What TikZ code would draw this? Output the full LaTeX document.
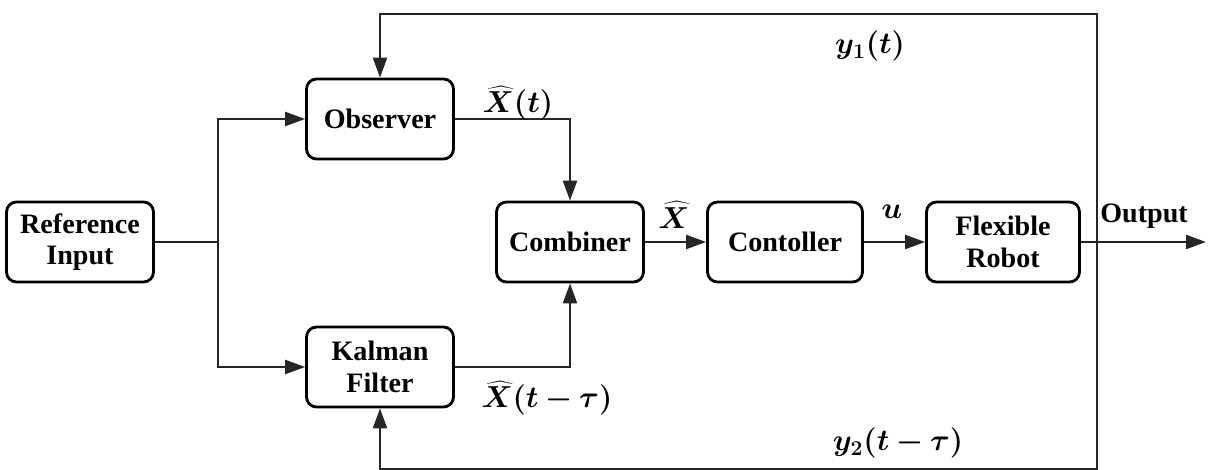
\documentclass[tikz,border=0pt]{standalone}
\usepackage{fontspec}
\setmainfont{Liberation Serif}
\usepackage{bm}
\usetikzlibrary{positioning,arrows.meta}

\begin{document}
\begin{tikzpicture}[x=0.02cm,y=-0.02cm,
  block/.style={draw, line width=1.6pt, rounded corners=0.2cm, minimum width=2.94cm, minimum height=1.6cm, align=center, font=\fontsize{16}{18}\selectfont\bfseries},
  wire/.style={line width=1.3pt, draw=black!85},
  arr/.style={wire, -{Triangle[length=0.4cm,width=0.28cm]}},
  lbl/.style={font=\fontsize{17}{20}\selectfont}]
\useasboundingbox (0,0) rectangle (1208,470);

\node[block](ref) at (80,242) {Reference\\Input};
\node[block](obs) at (380,119) {Observer};
\node[block](kal) at (380,367) {Kalman\\Filter};
\node[block](comb) at (570,242) {Combiner};
\node[block, minimum width=3.1cm](ctrl) at (785,242) {Contoller};
\node[block, minimum width=3.06cm](rob) at (1003,242) {Flexible\\Robot};

\coordinate (split) at (218,242);
\coordinate (out) at (1206,242);
\coordinate (tap) at (1097,242);
\coordinate (topr) at (1097,14);
\coordinate (botr) at (1097,469);

\draw[wire] (ref) -- (split);
\draw[arr] (split) |- (obs);
\draw[arr] (split) |- (kal);
\draw[arr] (obs.east) -| (comb.north);
\draw[arr] (kal.east) -| (comb.south);
\draw[arr] (comb) -- (ctrl);
\draw[arr] (ctrl) -- (rob);
\draw[arr] (rob) -- (out);
\draw[arr] (tap) -- (topr) -| (obs.north);
\draw[arr] (tap) -- (botr) -| (kal.south);

\node[lbl](xt) at (518,103) {$\bm{\widehat{X}(t)}$};
\node[lbl](xtt) at (547,398) {$\bm{\widehat{X}(t-\tau)}$};
\node[lbl](xh) at (674,215) {$\bm{\widehat{X}}$};
\node[lbl](uu) at (892,212) {$\bm{u}$};
\node[font=\fontsize{16}{18}\selectfont\bfseries](outl) at (1144,216) {Output};
\node[lbl](y1) at (870,46) {$\bm{y_1(t)}$};
\node[lbl](y2) at (898,443) {$\bm{y_2(t-\tau)}$};
\end{tikzpicture}
\end{document}
